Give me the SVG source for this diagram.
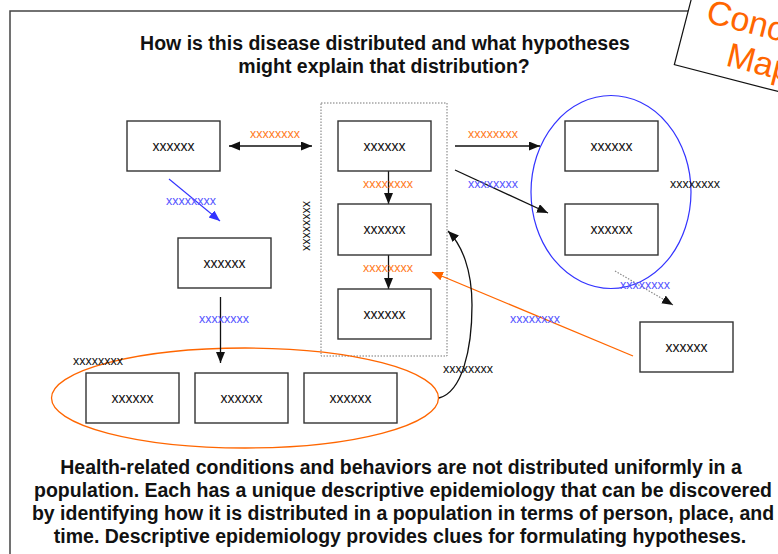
<svg xmlns="http://www.w3.org/2000/svg" width="778" height="554" viewBox="0 0 778 554">
<style>
.box{fill:#fff;stroke:#333;stroke-width:1.4}
.bt{font-family:"Liberation Sans",Arial,sans-serif;font-size:14px;fill:#111;text-anchor:middle}
.lb{font-family:"Liberation Sans",Arial,sans-serif;font-size:12.5px;text-anchor:middle}
.or{fill:#FF7A22}
.bl{fill:#5555FF}
.bk{fill:#111}
.hd{font-family:"Liberation Sans",Arial,sans-serif;font-size:19.5px;font-weight:bold;fill:#111;text-anchor:middle}
.ln{fill:none;stroke:#111;stroke-width:1.3}
.tag{font-family:"Liberation Sans",Arial,sans-serif;font-size:34px;fill:#FF6600;text-anchor:middle}
</style>
<defs>
<marker id="ak" markerUnits="userSpaceOnUse" markerWidth="12" markerHeight="10" refX="11" refY="4.5" orient="auto-start-reverse"><path d="M0,0 L11,4.5 L0,9 z" fill="#111"/></marker>
<marker id="ab" markerUnits="userSpaceOnUse" markerWidth="12" markerHeight="10" refX="11" refY="4.5" orient="auto"><path d="M0,0 L11,4.5 L0,9 z" fill="#3333FF"/></marker>
<marker id="ao" markerUnits="userSpaceOnUse" markerWidth="12" markerHeight="10" refX="11" refY="4.5" orient="auto"><path d="M0,0 L11,4.5 L0,9 z" fill="#FF6600"/></marker>
</defs>
<rect width="778" height="554" fill="#fff"/>
<g id="frame">
<path d="M10,554 L10,11 L705,11" fill="none" stroke="#444" stroke-width="1.5"/>
</g>
<g id="concept-map-tag" transform="translate(705,22) rotate(14.5)">
<rect x="-19" y="-90" width="200" height="139" fill="#fff" stroke="#111" stroke-width="1.2"/>
<text class="tag" x="63" y="0">Concept</text>
<text class="tag" x="63" y="37">Map</text>
</g>
<g id="title">
<text class="hd" x="385" y="50">How is this disease distributed and what hypotheses</text>
<text class="hd" x="384" y="73">might explain that distribution?</text>
</g>
<g id="groups">
<rect id="center-group" x="321" y="103" width="126" height="253" fill="none" stroke="#777" stroke-width="1" stroke-dasharray="1.5,1.5"/>
<ellipse id="blue-group" cx="611" cy="192" rx="80" ry="96.5" fill="none" stroke="#3333FF" stroke-width="1.2"/>
<ellipse id="orange-group" cx="245" cy="398" rx="193.5" ry="50" fill="none" stroke="#FF6600" stroke-width="1.3"/>
</g>
<g id="connectors">
<line class="ln" x1="229" y1="146" x2="312" y2="146" marker-start="url(#ak)" marker-end="url(#ak)"/>
<line x1="169" y1="179" x2="220" y2="221" stroke="#3333FF" stroke-width="1.1" marker-end="url(#ab)"/>
<line class="ln" x1="388.5" y1="171" x2="388.5" y2="204" marker-end="url(#ak)"/>
<line class="ln" x1="388.5" y1="255" x2="388.5" y2="289" marker-end="url(#ak)"/>
<line class="ln" x1="455" y1="146" x2="540" y2="146" marker-end="url(#ak)"/>
<line class="ln" x1="455" y1="170" x2="548" y2="213" marker-end="url(#ak)"/>
<line x1="615" y1="271" x2="673" y2="305" stroke="#888" stroke-width="1.2" stroke-dasharray="1.5,1.5" marker-end="url(#ak)"/>
<line x1="633" y1="356" x2="432" y2="272" stroke="#FF6600" stroke-width="1.3" marker-end="url(#ao)"/>
<path class="ln" d="M439,398 C462,392 472,350 472,305 C472,270 462,245 448,231" marker-end="url(#ak)"/>
<line class="ln" x1="220.5" y1="297" x2="220.5" y2="363" marker-end="url(#ak)"/>
</g>
<g id="labels">
<text class="lb or" x="275" y="138">xxxxxxxx</text>
<text class="lb bl" x="191" y="205">xxxxxxxx</text>
<text class="lb or" x="388" y="188">xxxxxxxx</text>
<text class="lb or" x="388" y="272">xxxxxxxx</text>
<text class="lb bk" transform="translate(303,226) rotate(90)" x="0" y="0">xxxxxxxx</text>
<text class="lb or" x="493" y="138">xxxxxxxx</text>
<text class="lb bl" x="493" y="188">xxxxxxxx</text>
<text class="lb bk" x="695" y="188">xxxxxxxx</text>
<text class="lb bl" x="645" y="289">xxxxxxxx</text>
<text class="lb bl" x="535" y="323">xxxxxxxx</text>
<text class="lb bk" x="468" y="373">xxxxxxxx</text>
<text class="lb bl" x="224" y="323">xxxxxxxx</text>
<text class="lb bk" x="98" y="365">xxxxxxxx</text>
</g>
<g id="node-a"><rect class="box" x="127" y="121" width="93" height="50"/><text class="bt" x="173.5" y="151">xxxxxx</text></g>
<g id="node-b"><rect class="box" x="338" y="121" width="93" height="50"/><text class="bt" x="384.5" y="151">xxxxxx</text></g>
<g id="node-c"><rect class="box" x="338" y="204" width="93" height="51"/><text class="bt" x="384.5" y="234">xxxxxx</text></g>
<g id="node-e"><rect class="box" x="338" y="289" width="93" height="50"/><text class="bt" x="384.5" y="319">xxxxxx</text></g>
<g id="node-d"><rect class="box" x="178" y="238" width="93" height="50"/><text class="bt" x="224.5" y="268">xxxxxx</text></g>
<g id="node-r1"><rect class="box" x="565" y="121" width="93" height="50"/><text class="bt" x="611.5" y="151">xxxxxx</text></g>
<g id="node-r2"><rect class="box" x="565" y="204" width="93" height="51"/><text class="bt" x="611.5" y="234">xxxxxx</text></g>
<g id="node-f"><rect class="box" x="640" y="322" width="93" height="50"/><text class="bt" x="686.5" y="352">xxxxxx</text></g>
<g id="node-g1"><rect class="box" x="86" y="373" width="93" height="50"/><text class="bt" x="132.5" y="403">xxxxxx</text></g>
<g id="node-g2"><rect class="box" x="195" y="373" width="93" height="50"/><text class="bt" x="241.5" y="403">xxxxxx</text></g>
<g id="node-g3"><rect class="box" x="304" y="373" width="93" height="50"/><text class="bt" x="350.5" y="403">xxxxxx</text></g>
<g id="summary">
<text class="hd" x="401" y="474">Health-related conditions and behaviors are not distributed uniformly in a</text>
<text class="hd" x="403" y="497">population. Each has a unique descriptive epidemiology that can be discovered</text>
<text class="hd" x="403" y="520">by identifying how it is distributed in a population in terms of person, place, and</text>
<text class="hd" x="400" y="543">time. Descriptive epidemiology provides clues for formulating hypotheses.</text>
</g>
</svg>
